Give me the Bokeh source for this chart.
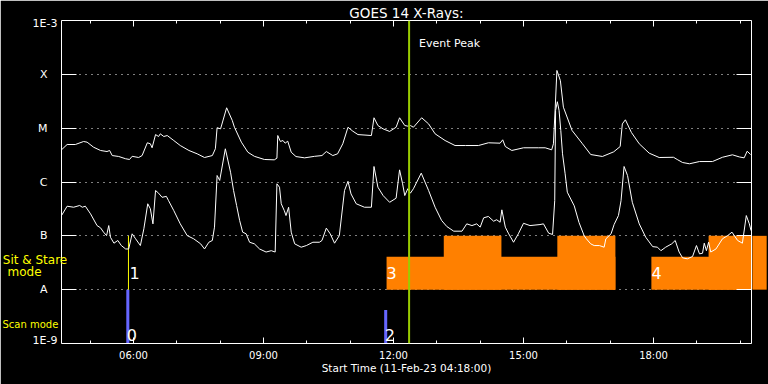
from bokeh.plotting import figure
from bokeh.models import Range1d, FixedTicker, LinearAxis, LogAxis, Span, Label
from bokeh.core.properties import value
from bokeh.embed import file_html
from bokeh.resources import INLINE

FONT = "DejaVu Sans"

# ---- time axis (hours of 11-Feb-23) ----
time_ticks = [6, 9, 12, 15, 18]
time_tick_labels = ["06:00", "09:00", "12:00", "15:00", "18:00"]
time_minor = [5, 6, 7, 8, 9, 10, 11, 12, 13, 14, 15, 16, 17, 18, 19, 20]

# ---- flux axis (W/m^2) ----
flux_ticks = [1e-8, 1e-7, 1e-6, 1e-5, 1e-4]
flux_tick_labels = ["A", "B", "C", "M", "X"]
flux_edges = [1e-3, 1e-9]
flux_edge_labels = ["1E-3", "1E-9"]

# ---- GOES long channel (upper curve) ----
long_t = [4.34, 4.47, 4.66, 4.85, 4.93, 5.08, 5.24, 5.39, 5.45, 5.51, 5.66, 5.82, 5.91, 5.97,
          6.12, 6.20, 6.32, 6.39, 6.43, 6.51, 6.58, 6.62, 6.70, 6.78, 6.93, 7.08, 7.28, 7.47,
          7.64, 7.82, 7.89, 7.93, 8.01, 8.15, 8.28, 8.33, 8.49, 8.64, 8.79, 9.02, 9.25, 9.31,
          9.33, 9.39, 9.45, 9.50, 9.56, 9.64, 9.75, 9.95, 10.18, 10.35, 10.45, 10.60, 10.71,
          10.83, 10.95, 11.06, 11.18, 11.49, 11.55, 11.64, 11.76, 11.91, 12.06, 12.14, 12.26,
          12.33, 12.39, 12.46, 12.65, 12.81, 12.96, 13.19, 13.42, 13.66, 13.96, 14.19, 14.46,
          14.52, 14.58, 14.73, 15.00, 15.35, 15.50, 15.65, 15.69, 15.73, 15.77, 15.85, 15.92,
          16.12, 16.36, 16.55, 16.82, 17.08, 17.23, 17.28, 17.35, 17.49, 17.67, 17.90, 18.13,
          18.46, 18.56, 18.67, 18.83, 19.06, 19.36, 19.59, 19.82, 19.98, 20.09, 20.16, 20.24]
long_f = [3.96e-6, 4.97e-6, 4.97e-6, 5.65e-6, 5.5e-6, 4.43e-6, 3.85e-6, 3.68e-6, 3.85e-6, 3.1e-6,
          2.98e-6, 2.7e-6, 2.62e-6, 3.0e-6, 2.85e-6, 3.1e-6, 5.35e-6, 5.13e-6, 4.32e-6, 7.6e-6,
          7.0e-6, 7.85e-6, 7.0e-6, 7.3e-6, 5.9e-6, 4.76e-6, 3.85e-6, 3.34e-6, 2.85e-6, 3.1e-6,
          4.14e-6, 1.02e-5, 9.7e-6, 2.39e-5, 1.39e-5, 1.04e-5, 5.5e-6, 3.57e-6, 3.0e-6, 2.62e-6,
          2.58e-6, 2.77e-6, 7.3e-6, 5.65e-6, 5.9e-6, 5.26e-6, 5.73e-6, 3.57e-6, 2.97e-6, 2.81e-6,
          3.0e-6, 3.1e-6, 3.68e-6, 3.1e-6, 3.34e-6, 5.13e-6, 1.04e-5, 8.8e-6, 7.6e-6, 7.3e-6,
          1.56e-5, 1.12e-5, 9.7e-6, 8.7e-6, 1.04e-5, 1.56e-5, 1.12e-5, 1.09e-5, 1.12e-5, 1.04e-5,
          1.56e-5, 1.2e-5, 7.85e-6, 5.9e-6, 4.76e-6, 4.76e-6, 4.76e-6, 5.35e-6, 5.26e-6, 6.08e-6,
          4.56e-6, 3.85e-6, 4.32e-6, 4.32e-6, 4.32e-6, 3.96e-6, 5.13e-6, 2.29e-5, 1.18e-4, 7.67e-5,
          2.45e-5, 9.05e-6, 5.13e-6, 3.24e-6, 2.98e-6, 3.63e-6, 4.56e-6, 1.2e-5, 1.43e-5, 8.3e-6,
          5.13e-6, 3.43e-6, 2.85e-6, 2.88e-6, 2.58e-6, 2.3e-6, 2.18e-6, 2.4e-6, 2.4e-6, 2.88e-6,
          3.2e-6, 2.92e-6, 2.81e-6, 3.73e-6, 3.24e-6]

# ---- GOES short channel (lower curve) ----
short_t = [4.34, 4.47, 4.62, 4.76, 4.82, 4.89, 5.01, 5.16, 5.24, 5.31, 5.38, 5.43, 5.47, 5.55,
           5.64, 5.72, 5.82, 5.89, 5.97, 6.05, 6.16, 6.24, 6.33, 6.39, 6.45, 6.51, 6.58, 6.66,
           6.76, 6.81, 6.93, 7.08, 7.24, 7.39, 7.55, 7.64, 7.74, 7.82, 7.87, 7.93, 7.99, 8.12,
           8.24, 8.31, 8.38, 8.45, 8.52, 8.60, 8.68, 8.79, 8.91, 9.06, 9.18, 9.27, 9.31, 9.37,
           9.41, 9.48, 9.52, 9.58, 9.64, 9.72, 9.87, 9.99, 10.14, 10.29, 10.35, 10.45, 10.54,
           10.64, 10.75, 10.87, 10.95, 11.02, 11.14, 11.33, 11.49, 11.55, 11.64, 11.76, 11.91,
           12.06, 12.14, 12.21, 12.26, 12.33, 12.39, 12.46, 12.64, 12.81, 12.96, 13.11, 13.23,
           13.39, 13.58, 13.69, 13.81, 13.92, 14.00, 14.08, 14.19, 14.31, 14.38, 14.46, 14.50,
           14.58, 14.65, 14.77, 14.88, 15.00, 15.15, 15.38, 15.46, 15.58, 15.67, 15.72, 15.74,
           15.78, 15.82, 15.86, 15.90, 15.96, 16.01, 16.17, 16.28, 16.40, 16.45, 16.55, 16.63,
           16.75, 16.86, 16.90, 17.02, 17.09, 17.19, 17.25, 17.32, 17.40, 17.51, 17.67, 17.82,
           17.98, 18.09, 18.17, 18.28, 18.42, 18.50, 18.59, 18.67, 18.78, 18.90, 18.99, 19.06,
           19.13, 19.17, 19.22, 19.27, 19.32, 19.44, 19.59, 19.71, 19.81, 19.94, 20.05, 20.14,
           20.21, 20.25]
short_f = [2.38e-7, 3.55e-7, 3.4e-7, 3.66e-7, 3.4e-7, 3.55e-7, 2.56e-7, 1.55e-7, 1.41e-7, 1.17e-7,
           1.01e-7, 1.55e-7, 9.4e-8, 7.3e-8, 8.2e-8, 6.6e-8, 5.7e-8, 5.7e-8, 1.09e-7, 8.8e-8,
           6.6e-8, 1.35e-7, 3.94e-7, 3.18e-7, 1.67e-7, 6.95e-7, 6.2e-7, 5.2e-7, 5.4e-7, 4.5e-7,
           2.95e-7, 1.67e-7, 1.01e-7, 8.8e-8, 7.1e-8, 5.7e-8, 7.6e-8, 8.2e-8, 1.45e-7, 1.32e-6,
           1.07e-6, 4.14e-6, 1.52e-6, 6.95e-7, 3.66e-7, 1.93e-7, 1.17e-7, 1.09e-7, 7.6e-8, 7.1e-8,
           5.7e-8, 5.0e-8, 5.3e-8, 5.0e-8, 9.25e-7, 8.0e-7, 3.94e-7, 2.95e-7, 2.38e-7, 3.4e-7,
           1.17e-7, 7.1e-8, 6.15e-8, 6.6e-8, 7.6e-8, 7.6e-8, 8.2e-8, 1.39e-7, 1.09e-7, 7.3e-8,
           1.01e-7, 6.95e-7, 1.03e-6, 6.0e-7, 3.94e-7, 3.4e-7, 3.4e-7, 1.94e-6, 8.0e-7, 5.6e-7,
           4.2e-7, 5.0e-7, 1.68e-6, 9.25e-7, 5.6e-7, 7.5e-7, 6.2e-7, 7.5e-7, 1.46e-6, 6.95e-7,
           3.4e-7, 1.93e-7, 1.49e-7, 1.22e-7, 1.22e-7, 1.67e-7, 1.55e-7, 1.67e-7, 1.45e-7, 2.16e-7,
           2.29e-7, 1.87e-7, 1.99e-7, 1.79e-7, 3.04e-7, 1.45e-7, 1.12e-7, 7.6e-8, 1.09e-7, 1.71e-7,
           1.55e-7, 1.62e-7, 1.67e-7, 1.12e-7, 1.06e-7, 4.5e-7, 2.13e-5, 3.1e-5, 2.13e-5, 9.05e-6,
           3.34e-6, 1.42e-6, 6.46e-7, 3.61e-7, 1.77e-7, 1.0e-7, 8.8e-8, 7.1e-8, 6.6e-8, 6.6e-8,
           6.15e-8, 8.8e-8, 1.09e-7, 1.62e-7, 2.38e-7, 4.5e-7, 1.94e-6, 1.32e-6, 4.2e-7, 1.67e-7,
           9.4e-8, 6.3e-8, 6.15e-8, 5.3e-8, 6.15e-8, 7.1e-8, 8.2e-8, 5.0e-8, 3.9e-8, 3.74e-8,
           4.13e-8, 6.6e-8, 4.63e-8, 4.75e-8, 7.3e-8, 5.3e-8, 7.6e-8, 5.0e-8, 5.7e-8, 8.8e-8,
           1.01e-7, 1.17e-7, 8.2e-8, 7.3e-8, 2.38e-7, 1.67e-7, 1.25e-7]

# ---- observing modes ----
scan_t = [5.87, 11.82]          # scan mode starts
scan_top = [1e-8, 4.2e-9]
scan_labels = ["0", "2"]
stare_t = [5.885]               # sit & stare marker
stare_labels = ["1"]
block_start = [11.84, 17.95]    # sit & stare blocks
block_end = [17.12, 20.61]
block_top = [4.1e-8, 4.1e-8]
block_labels = ["3", "4"]
high_start = [13.16, 15.78, 19.27]
high_end = [14.49, 17.12, 20.61]
high_top = [1e-7, 1e-7, 1e-7]
event_peak = 12.36
mode_names = ["Sit & Stare", "mode", "Scan mode"]

x_start, x_end = 4.34, 20.26
ORANGE = "#ff8000"

p = figure(width=768, height=384, x_range=Range1d(x_start, x_end), y_range=Range1d(1e-9, 1e-3),
           y_axis_type="log", output_backend="svg", toolbar_location=None,
           min_border_left=61, min_border_right=17, min_border_top=20, min_border_bottom=41)
p.background_fill_color = "black"
p.border_fill_color = "black"
p.outline_line_color = None

p.title.text = "GOES 14 X-Rays:"
p.title.align = "center"
p.title.text_color = "white"
p.title.text_font = FONT
p.title.text_font_size = "13.5px"
p.title.text_font_style = "normal"
p.title.standoff = 0


def style_axis(ax):
    ax.axis_line_color = "white"
    ax.major_tick_line_color = "white"
    ax.minor_tick_line_color = "white"
    ax.major_tick_out = 0
    ax.minor_tick_out = 0
    ax.major_label_text_color = "white"
    ax.major_label_text_font = FONT


xb = p.xaxis[0]
xb.ticker = FixedTicker(ticks=time_ticks, minor_ticks=time_minor)
xb.major_label_overrides = dict(zip(time_ticks, time_tick_labels))
style_axis(xb)
xb.major_tick_in = 6
xb.minor_tick_in = 3
xb.major_label_text_font_size = "10px"
xb.major_label_standoff = 6
xb.axis_label = "Start Time (11-Feb-23 04:18:00)"
xb.axis_label_text_color = "white"
xb.axis_label_text_font = FONT
xb.axis_label_text_font_size = "10.5px"
xb.axis_label_text_font_style = "normal"
xb.axis_label_standoff = -2

xt = LinearAxis(ticker=FixedTicker(ticks=time_ticks, minor_ticks=time_minor))
style_axis(xt)
xt.major_tick_in = 6
xt.minor_tick_in = 3
xt.major_label_overrides = {t: "" for t in time_ticks}
xt.major_label_standoff = 0
p.add_layout(xt, "above")

yl = p.yaxis[0]
yl.ticker = FixedTicker(ticks=flux_ticks, minor_ticks=[])
yl.major_label_overrides = dict(zip(flux_ticks, flux_tick_labels))
style_axis(yl)
yl.major_tick_in = 15
yl.major_label_text_font_size = "11px"
yl.major_label_standoff = 14

yr = LogAxis(ticker=FixedTicker(ticks=flux_ticks, minor_ticks=[]))
style_axis(yr)
yr.major_tick_in = 15
yr.major_label_overrides = {t: "" for t in flux_ticks}
yr.major_label_standoff = 0
p.add_layout(yr, "right")

p.xgrid.visible = False
p.ygrid.ticker = FixedTicker(ticks=flux_ticks, minor_ticks=[])
p.ygrid.grid_line_color = "white"
p.ygrid.grid_line_dash = "1 5"
p.ygrid.grid_line_width = 1

# modes
p.quad(left=block_start, right=block_end, bottom=1e-8, top=block_top,
       fill_color=ORANGE, line_color=None)
p.quad(left=high_start, right=high_end, bottom=1e-8, top=high_top,
       fill_color=ORANGE, line_color=None)
# part of the last block that spills past the right frame edge
p.quad(left=[x_end + 0.02], right=high_end[-1:], bottom=1e-8, top=high_top[-1:],
       fill_color=ORANGE, line_color=None, level="overlay")
p.vbar(x=scan_t, top=scan_top, bottom=1e-9, width=0.07, fill_color="#6666ff", line_color=None)
p.segment(x0=stare_t, y0=[1e-8], x1=stare_t, y1=[1e-7], line_color="#ffff00", line_width=1)

# curves
p.line(long_t, long_f, line_color="white", line_width=1)
p.line(short_t, short_f, line_color="white", line_width=1)

p.add_layout(Span(location=event_peak, dimension="height", line_color="#99cc00", line_width=2))

digit_kw = dict(text_color="white", text_font=value(FONT), text_font_size="16px",
                text_align="left", text_baseline="middle")
p.text(x=scan_t, y=[1.44e-9] * len(scan_t), text=scan_labels, x_offset=-1, **digit_kw)
p.text(x=stare_t, y=[2.08e-8], text=stare_labels, x_offset=1, **digit_kw)
p.text(x=block_start, y=[2.08e-8] * len(block_start), text=block_labels, **digit_kw)

p.add_layout(Label(x=event_peak, y=3.7e-4, x_offset=10, text="Event Peak", text_color="white",
                   text_font=FONT, text_font_size="11px", text_baseline="middle"))

# texts in the left margin (drawn on the overlay level so they are not clipped to the frame)
p.text(x=[x_start] * 2, y=[8.8e-4, 1.14e-9], text=flux_edge_labels, x_offset=-4,
       text_color="white", text_font=value(FONT), text_font_size="11px",
       text_align="right", text_baseline="middle", level="overlay")
p.text(x=[x_start] * 2, y=[3.63e-8, 2.17e-8], text=mode_names[:2],
       x_offset=[-26.5, -37], text_color="#ffff00", text_font=value(FONT),
       text_font_size="12px", text_align="center", text_baseline="middle", level="overlay")
p.text(x=[x_start], y=[2.25e-9], text=mode_names[2:], x_offset=-59,
       text_color="#ffff00", text_font=value(FONT),
       text_font_size="10px", text_align="left", text_baseline="middle", level="overlay")

open("out.html", "w").write(file_html(p, INLINE))
